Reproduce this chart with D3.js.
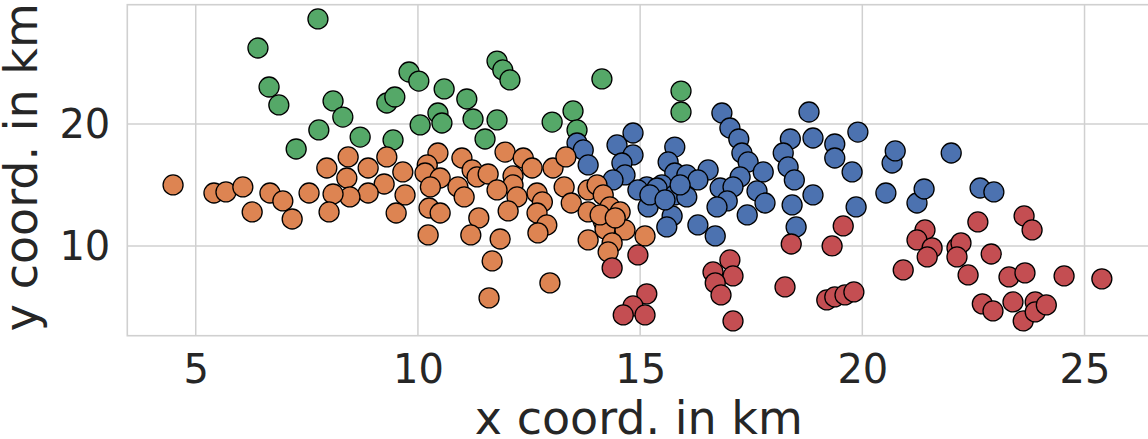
<!DOCTYPE html>
<html>
<head>
<meta charset="utf-8">
<script src="https://cdn.jsdelivr.net/npm/d3@7"></script>
<style>
  html, body { margin: 0; padding: 0; background: #ffffff; }
  svg { display: block; }
  text { font-family: "DejaVu Sans", sans-serif; fill: #262626; }
</style>
</head>
<body>
<div id="chart"></div>
<script>
// Cluster members as [x km, y km]
const clusterGreen = [
  [7.75, 28.61], [6.40, 26.23], [6.65, 23.03], [6.87, 21.56], [8.09, 21.89],
  [8.31, 20.57], [7.77, 19.51], [7.26, 17.95], [8.70, 18.93], [9.30, 21.72],
  [9.48, 22.21], [9.80, 24.26], [10.02, 23.52], [10.59, 22.87], [11.10, 22.05],
  [10.45, 20.90], [10.54, 20.08], [10.05, 19.92], [9.44, 18.69], [11.24, 20.41],
  [11.78, 20.33], [11.51, 18.77], [11.78, 25.16], [11.91, 24.43], [12.07, 23.61],
  [14.14, 23.69], [13.49, 21.07], [13.02, 20.16], [13.58, 19.51], [15.92, 22.70],
  [15.92, 20.98]
];

const clusterBlue = [
  [13.58, 18.44], [13.72, 17.87], [13.83, 16.64], [14.48, 18.28], [14.84, 19.26],
  [14.84, 17.46], [14.59, 16.80], [14.66, 15.82], [14.39, 15.41], [15.78, 18.11],
  [15.63, 16.89], [15.78, 15.98], [16.05, 15.82], [16.53, 16.23], [16.30, 15.41],
  [15.49, 15.00], [15.15, 14.84], [14.95, 14.59], [15.38, 14.75], [15.78, 14.18],
  [16.05, 14.02], [15.18, 13.20], [15.72, 12.46], [15.60, 11.56], [16.30, 11.72],
  [16.69, 10.82], [16.80, 14.75], [16.84, 20.90], [17.02, 19.67], [17.22, 18.77],
  [17.29, 17.62], [17.43, 16.89], [17.77, 16.07], [17.25, 15.66], [17.09, 14.84],
  [16.96, 13.69], [16.73, 13.20], [17.63, 14.51], [17.81, 13.52], [17.41, 12.54],
  [18.80, 20.98], [18.38, 18.77], [18.22, 17.62], [18.33, 16.48], [18.47, 15.41],
  [18.89, 18.85], [19.38, 18.36], [19.38, 17.21], [19.77, 16.07], [18.89, 14.18],
  [18.42, 13.36], [18.51, 11.56], [19.90, 19.34], [19.86, 13.20], [20.53, 14.34],
  [20.67, 16.80], [20.74, 17.79], [21.23, 13.52], [21.39, 14.67], [22.00, 17.62],
  [22.65, 14.75], [22.96, 14.43], [15.22, 14.18], [15.56, 13.77], [15.90, 15.00]
];

const clusterOrange = [
  [4.49, 15.00], [5.41, 14.34], [5.68, 14.43], [6.06, 14.84], [6.27, 12.79],
  [6.67, 14.34], [6.96, 13.69], [7.17, 12.21], [7.55, 14.34], [7.95, 16.39],
  [8.43, 17.30], [8.40, 15.57], [8.88, 16.39], [9.30, 17.30], [9.24, 15.08],
  [8.88, 14.34], [8.47, 14.02], [8.09, 14.26], [8.00, 12.79], [9.66, 16.07],
  [9.71, 14.18], [9.51, 12.70], [10.45, 17.62], [10.21, 16.64], [10.16, 15.98],
  [10.50, 15.57], [10.28, 14.84], [10.25, 13.11], [10.50, 12.70], [10.23, 10.90],
  [10.99, 17.21], [11.22, 16.23], [11.33, 15.66], [11.58, 15.90], [10.90, 14.84],
  [11.04, 14.02], [11.37, 12.30], [11.19, 10.90], [11.85, 10.57], [11.67, 8.77],
  [11.60, 5.74], [11.96, 17.70], [12.37, 17.21], [12.14, 15.74], [12.14, 15.00],
  [11.78, 14.59], [12.23, 14.02], [12.03, 12.87], [12.57, 16.39], [12.68, 14.34],
  [12.80, 13.61], [12.68, 12.70], [12.90, 11.72], [12.70, 11.07], [13.04, 16.39],
  [13.33, 17.30], [13.29, 14.84], [13.45, 13.52], [12.97, 6.97], [13.83, 14.59],
  [14.03, 15.00], [14.17, 14.18], [13.83, 12.79], [14.32, 13.20], [14.55, 12.79],
  [14.17, 12.05], [14.21, 11.39], [14.66, 11.31], [13.83, 10.49], [14.37, 10.25],
  [14.28, 9.51], [15.11, 10.82], [14.10, 12.54], [14.44, 12.30]
];

const clusterRed = [
  [14.37, 8.20], [14.95, 9.26], [15.15, 6.07], [14.84, 5.08], [14.62, 4.34],
  [15.11, 4.34], [18.40, 10.16], [19.32, 10.00], [19.57, 11.64], [17.02, 8.85],
  [16.64, 7.87], [17.09, 7.54], [16.69, 6.97], [16.82, 5.98], [17.09, 3.85],
  [18.26, 6.64], [19.20, 5.57], [19.38, 5.82], [19.61, 5.98], [19.81, 6.23],
  [20.92, 8.03], [21.41, 11.31], [21.23, 10.49], [21.57, 9.84], [21.46, 9.10],
  [22.60, 11.97], [22.13, 9.84], [22.22, 10.25], [22.13, 9.10], [22.90, 9.34],
  [22.38, 7.62], [23.64, 12.46], [23.82, 11.31], [23.30, 7.46], [23.66, 7.79],
  [24.54, 7.54], [25.39, 7.30], [22.70, 5.25], [22.94, 4.67], [23.39, 5.41],
  [23.62, 3.85], [23.89, 5.41], [23.89, 4.59], [24.14, 5.16]
];

const xTicks = [5, 10, 15, 20, 25];
const yTicks = [10, 20];
const xLabel = "x coord. in km";
const yLabel = "y coord. in km";

// drawing order of the groups (later ones sit on top)
const groups = [
  { pts: clusterGreen,  color: "#55A868" },
  { pts: clusterBlue,   color: "#4C72B0" },
  { pts: clusterOrange, color: "#DD8452" },
  { pts: clusterRed,    color: "#C44E52" }
];

const W = 1148, H = 439;
const plot = { left: 127.3, top: 4.7, right: 1150.3, bottom: 335.7 };

const x = d3.scaleLinear().domain([3.46, 26.48]).range([plot.left, plot.right]);
const y = d3.scaleLinear().domain([2.64, 29.78]).range([plot.bottom, plot.top]);

const svg = d3.select("#chart").append("svg")
  .attr("width", W).attr("height", H);

const gridColor = "#d0d0d0";

// grid lines
svg.append("g").selectAll("line").data(xTicks).join("line")
  .attr("x1", d => x(d)).attr("x2", d => x(d))
  .attr("y1", plot.top).attr("y2", plot.bottom)
  .attr("stroke", gridColor).attr("stroke-width", 1.5);
svg.append("g").selectAll("line").data(yTicks).join("line")
  .attr("x1", plot.left).attr("x2", plot.right)
  .attr("y1", d => y(d)).attr("y2", d => y(d))
  .attr("stroke", gridColor).attr("stroke-width", 1.5);

// frame
svg.append("rect")
  .attr("x", plot.left).attr("y", plot.top)
  .attr("width", plot.right - plot.left).attr("height", plot.bottom - plot.top)
  .attr("fill", "none").attr("stroke", gridColor).attr("stroke-width", 1.6);

// axes (labels only, no tick marks)
const xAxis = d3.axisBottom(x).tickValues(xTicks).tickSize(0).tickPadding(0);
svg.append("g").attr("transform", `translate(0,${plot.bottom})`).call(xAxis)
  .call(g => g.select(".domain").remove())
  .selectAll("text")
  .attr("y", 47).attr("dy", 0)
  .style("font-size", "40px").style("font-family", "DejaVu Sans").attr("fill", "#262626");

const yAxis = d3.axisLeft(y).tickValues(yTicks).tickSize(0).tickPadding(0);
svg.append("g").attr("transform", `translate(${plot.left},0)`).call(yAxis)
  .call(g => g.select(".domain").remove())
  .selectAll("text")
  .attr("x", -17).attr("dy", "0.35em")
  .style("font-size", "40px").style("font-family", "DejaVu Sans").attr("fill", "#262626");

// points
groups.forEach(gr => {
  svg.append("g").selectAll("circle").data(gr.pts).join("circle")
    .attr("cx", d => x(d[0])).attr("cy", d => y(d[1]))
    .attr("r", 10)
    .attr("fill", gr.color)
    .attr("stroke", "#000000").attr("stroke-width", 1.3);
});

// axis titles
svg.append("text")
  .attr("x", (plot.left + plot.right) / 2).attr("y", 434)
  .attr("text-anchor", "middle")
  .style("font-size", "46px")
  .text(xLabel);

svg.append("text")
  .attr("transform", `translate(37,${(plot.top + plot.bottom) / 2 - 3}) rotate(-90)`)
  .attr("text-anchor", "middle")
  .style("font-size", "46px")
  .text(yLabel);
</script>
</body>
</html>
